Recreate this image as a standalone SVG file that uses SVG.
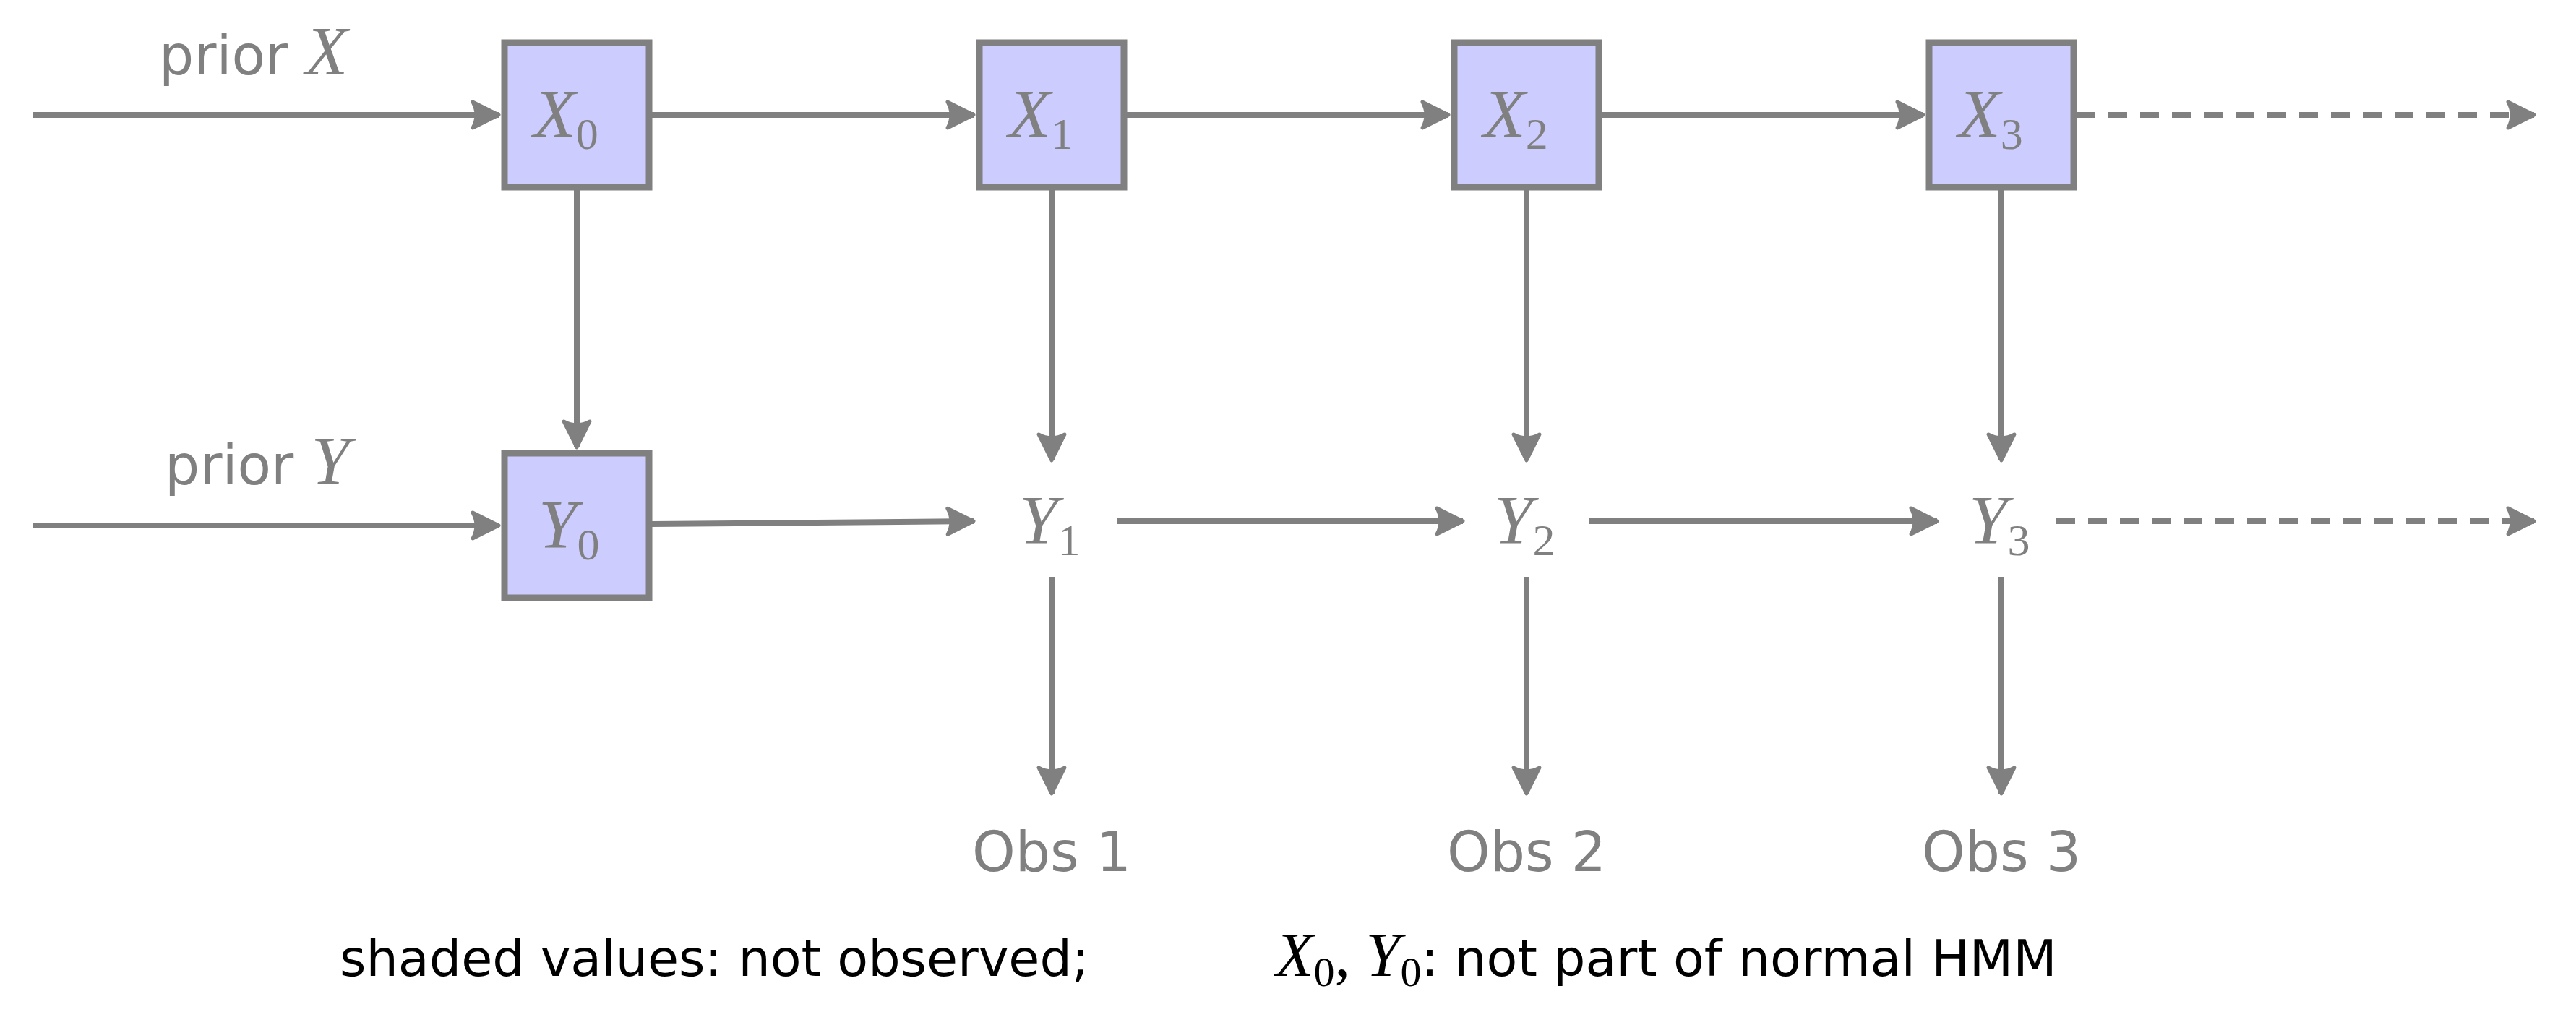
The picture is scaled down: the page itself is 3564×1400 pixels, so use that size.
<svg xmlns="http://www.w3.org/2000/svg" width="3564" height="1400" viewBox="0 0 3564 1400">
<style>
.ln{stroke:#808080;stroke-width:8;fill:none;marker-end:url(#ah)}
.ds{stroke-dasharray:26 18}
.box{fill:#ccccff;stroke:#808080;stroke-width:9}
.m{font-family:"Liberation Serif",serif;font-style:italic;fill:#808080;font-size:96px}
.sub{font-family:"Liberation Serif",serif;font-style:normal;font-size:62px}
.s{font-family:"DejaVu Sans","Liberation Sans",sans-serif;fill:#808080;font-size:76px}
.b{font-family:"DejaVu Sans","Liberation Sans",sans-serif;fill:#000;font-size:70px}
.mb{font-family:"Liberation Serif",serif;font-style:italic;fill:#000;font-size:86px}
.mbs{font-family:"Liberation Serif",serif;font-style:normal;fill:#000;font-size:58px}
.mbn{font-family:"Liberation Serif",serif;font-style:normal;fill:#000;font-size:86px}
</style>
<defs>
<marker id="ah" markerWidth="12" markerHeight="12" refX="10" refY="6" orient="auto" markerUnits="userSpaceOnUse" viewBox="0 0 12 12" overflow="visible">
<path d="M-28,-12 Q-8,-2 8,6 Q-8,14 -28,24 Q-18,6 -28,-12 Z" transform="translate(2,0)" fill="#808080" stroke="#808080" stroke-width="5" stroke-linejoin="round"/>
</marker>
</defs>
<g id="connectors">
<line class="ln" x1="45" y1="159" x2="690" y2="159"/>
<line class="ln" x1="902" y1="159" x2="1347" y2="159"/>
<line class="ln" x1="1559" y1="159" x2="2004" y2="159"/>
<line class="ln" x1="2216" y1="159" x2="2661" y2="159"/>
<line class="ln ds" x1="2873" y1="159" x2="3506" y2="159"/>
<line class="ln" x1="798" y1="263" x2="798" y2="619"/>
<line class="ln" x1="1455" y1="263" x2="1455" y2="637"/>
<line class="ln" x1="2112" y1="263" x2="2112" y2="637"/>
<line class="ln" x1="2769" y1="263" x2="2769" y2="637"/>
<line class="ln" x1="45" y1="727" x2="690" y2="727"/>
<line class="ln" x1="902" y1="725" x2="1347" y2="721"/>
<line class="ln" x1="1546" y1="721" x2="2024" y2="721"/>
<line class="ln" x1="2198" y1="721" x2="2680" y2="721"/>
<line class="ln ds" x1="2845" y1="721" x2="3506" y2="721"/>
<line class="ln" x1="1455" y1="798" x2="1455" y2="1098"/>
<line class="ln" x1="2112" y1="798" x2="2112" y2="1098"/>
<line class="ln" x1="2769" y1="798" x2="2769" y2="1098"/>
</g>
<g id="priorX"><text x="220" y="103" class="s">prior <tspan class="m">X</tspan></text></g>
<g id="priorY"><text x="228" y="670" class="s">prior <tspan class="m">Y</tspan></text></g>
<g id="X0"><rect class="box" x="698" y="59" width="200" height="200"/><text class="m" x="738" y="190">X<tspan class="sub" dy="16">0</tspan></text></g>
<g id="X1"><rect class="box" x="1355" y="59" width="200" height="200"/><text class="m" x="1395" y="190">X<tspan class="sub" dy="16">1</tspan></text></g>
<g id="X2"><rect class="box" x="2012" y="59" width="200" height="200"/><text class="m" x="2052" y="190">X<tspan class="sub" dy="16">2</tspan></text></g>
<g id="X3"><rect class="box" x="2669" y="59" width="200" height="200"/><text class="m" x="2709" y="190">X<tspan class="sub" dy="16">3</tspan></text></g>
<g id="Y0"><rect class="box" x="698" y="627" width="200" height="200"/><text class="m" x="745" y="758">Y<tspan class="sub" dy="16">0</tspan></text></g>
<g id="Y1"><text class="m" x="1410" y="752">Y<tspan class="sub" dy="16">1</tspan></text></g>
<g id="Y2"><text class="m" x="2067" y="752">Y<tspan class="sub" dy="16">2</tspan></text></g>
<g id="Y3"><text class="m" x="2724" y="752">Y<tspan class="sub" dy="16">3</tspan></text></g>
<g id="Obs1"><text class="s" x="1455" y="1205" text-anchor="middle">Obs 1</text></g>
<g id="Obs2"><text class="s" x="2112" y="1205" text-anchor="middle">Obs 2</text></g>
<g id="Obs3"><text class="s" x="2769" y="1205" text-anchor="middle">Obs 3</text></g>
<g id="caption">
<text class="b" x="470" y="1350">shaded values: not observed;</text>
<text class="b" x="1765" y="1350"><tspan class="mb">X</tspan><tspan class="mbs" dy="14">0</tspan><tspan class="mbn" dy="-14">, </tspan><tspan class="mb">Y</tspan><tspan class="mbs" dy="14">0</tspan><tspan dy="-14">: not part of normal HMM</tspan></text>
</g>
</svg>
